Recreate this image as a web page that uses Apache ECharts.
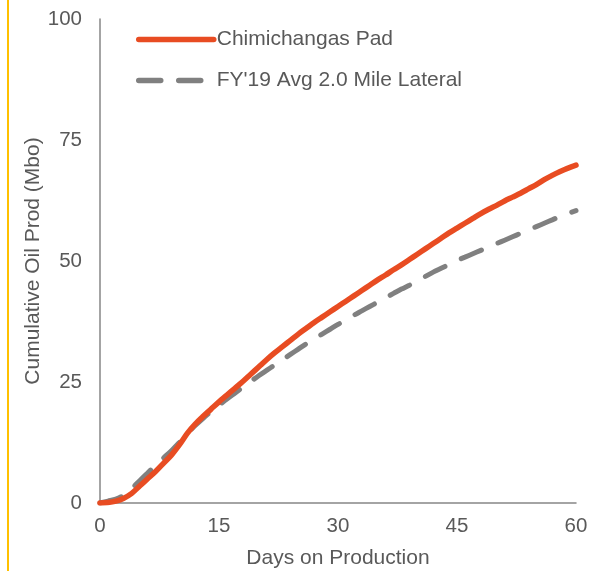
<!DOCTYPE html>
<html>
<head>
<meta charset="utf-8">
<script src="https://cdn.jsdelivr.net/npm/echarts@6/dist/echarts.min.js"></script>
<style>html,body{margin:0;padding:0;background:#fff}#c{width:603px;height:571px}</style>
</head>
<body>
<div id="c"></div>
<script>
const days = Array.from({length: 61}, (_, i) => i);
const chimichangas = [0,0.1,0.4,1.0,2.0,3.5,5.0,6.5,8.2,9.9,12.0,14.4,16.3,17.9,19.4,20.9,22.3,23.7,25.1,26.6,28.1,29.6,31.0,32.3,33.6,34.9,36.1,37.3,38.4,39.5,40.6,41.7,42.8,43.9,45.0,46.1,47.1,48.2,49.2,50.3,51.4,52.5,53.6,54.7,55.8,56.8,57.8,58.8,59.8,60.7,61.5,62.4,63.2,64.0,64.9,65.8,66.8,67.7,68.5,69.2,69.8];
const fy19Avg = [0,0.4,0.8,1.6,3.0,4.6,6.2,7.8,9.3,10.8,12.5,14.3,16.0,17.5,18.9,20.2,21.5,22.7,23.9,25.1,26.3,27.4,28.5,29.6,30.7,31.8,32.9,33.9,34.9,35.9,36.9,37.8,38.8,39.7,40.6,41.5,42.4,43.3,44.2,45.0,45.9,46.8,47.7,48.5,49.3,50.1,50.8,51.5,52.2,52.9,53.6,54.3,55.0,55.7,56.4,57.1,57.8,58.5,59.2,59.8,60.4];
const xTicks = {min: 0, max: 60, interval: 15};
const yTicks = {min: 0, max: 100, interval: 25};
const seriesNames = ['Chimichangas Pad', "FY'19 Avg 2.0 Mile Lateral"];

const chart = echarts.init(document.getElementById('c'), null, {renderer: 'canvas'});
const font = 'Liberation Sans, Arial, sans-serif';
chart.setOption({
  animation: false,
  grid: {left: 100, right: 27, top: 19, bottom: 68, outerBoundsMode: 'none', containLabel: false},
  legend: {
    orient: 'vertical', left: 131, top: 24, itemGap: 20,
    itemWidth: 75, itemHeight: 14,
    itemStyle: {opacity: 0},
    lineStyle: {width: 5.5, cap: 'round', inactiveWidth: 5},
    textStyle: {fontFamily: font, fontSize: 21, color: '#595959', padding: [0,0,0,-2]},
    data: seriesNames
  },
  xAxis: {
    type: 'value', min: xTicks.min, max: xTicks.max, interval: xTicks.interval,
    name: 'Days on Production', nameLocation: 'middle', nameGap: 45, nameMoveOverlap: false,
    nameTextStyle: {fontFamily: font, fontSize: 21, color: '#595959'},
    axisLine: {show: true, lineStyle: {color: '#868686', width: 1.5}},
    axisTick: {show: false}, splitLine: {show: false},
    axisLabel: {fontFamily: font, fontSize: 20.5, color: '#595959', margin: 13}
  },
  yAxis: {
    type: 'value', min: yTicks.min, max: yTicks.max, interval: yTicks.interval,
    name: 'Cumulative Oil Prod (Mbo)', nameLocation: 'middle', nameGap: 56, nameMoveOverlap: false,
    nameTextStyle: {fontFamily: font, fontSize: 21, color: '#595959'},
    axisLine: {show: true, lineStyle: {color: '#868686', width: 1.5}},
    axisTick: {show: false}, splitLine: {show: false},
    axisLabel: {fontFamily: font, fontSize: 20.5, color: '#595959', margin: 18}
  },
  series: [
    {
      name: seriesNames[1], type: 'line', symbol: 'none', smooth: 0.3,
      data: days.map((d, i) => [d, fy19Avg[i]]),
      lineStyle: {color: '#808080', width: 5, type: [22, 18], cap: 'round'},
      itemStyle: {color: '#808080'}, z: 2
    },
    {
      name: seriesNames[0], type: 'line', symbol: 'none', smooth: 0.3,
      data: days.map((d, i) => [d, chimichangas[i]]),
      lineStyle: {color: '#E84C22', width: 5.5, cap: 'round'},
      itemStyle: {color: '#E84C22'}, z: 3
    }
  ],
  graphic: [{
    type: 'line', shape: {x1: 8, y1: 0, x2: 8, y2: 571},
    style: {stroke: '#FFC000', lineWidth: 2}
  }]
});
</script>
</body>
</html>
